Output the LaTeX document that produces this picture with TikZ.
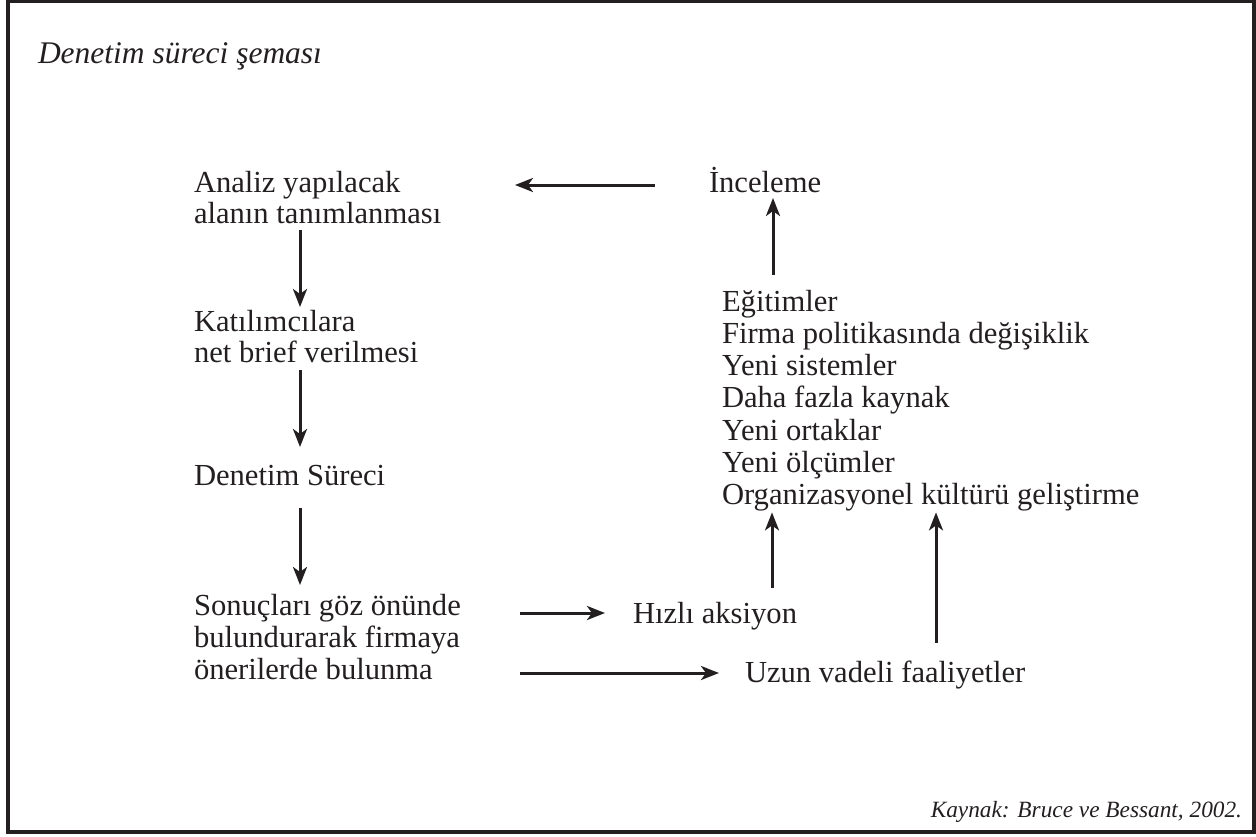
\documentclass[tikz,border=0pt]{standalone}
\usepackage{fontspec}
\setmainfont{Liberation Serif}
\usetikzlibrary{arrows.meta,calc}
\definecolor{ink}{RGB}{35,31,32}
% stacked lines with a fixed distance between baselines; the box's baseline is the first line's
\newcommand\linestack[2]{\vtop{\baselineskip=#1pt\lineskiplimit=-100pt\relax #2}}
\tikzset{
  lbl/.style={anchor=base west, inner sep=0pt, outer sep=0pt, text=ink,
              font=\fontsize{30.6}{32.3}\selectfont},
  arr/.style={draw=ink, line width=3pt,
              -{Stealth[length=18pt,width=14pt,inset=5pt]}},
}
\begin{document}
\begin{tikzpicture}[x=1pt,y=-1pt]
  \useasboundingbox (0,0) rectangle (1256,836);
  % frame
  \draw[ink, line width=3.2pt] (8,1.6) rectangle (1254,832);

  % title and source
  \node[lbl, font=\fontsize{31.5}{36}\selectfont\itshape] (title) at (38,63) {Denetim süreci şeması};
  \node[lbl, anchor=base east, font=\fontsize{23.3}{28}\selectfont\itshape] (kaynak) at (1242,817)
    {Kaynak: Bruce ve Bessant, 2002.};

  % left column
  \node[lbl] (analiz) at (194,192)
    {\linestack{31}{\hbox{Analiz yapılacak}\hbox{alanın tanımlanması}}};
  \node[lbl] (katil) at (194,331)
    {\linestack{31}{\hbox{Katılımcılara}\hbox{net brief verilmesi}}};
  \node[lbl] (denetim) at (194,485) {Denetim Süreci};
  \node[lbl] (sonuc) at (194,615)
    {\linestack{32}{\hbox{Sonuçları göz önünde}\hbox{bulundurarak firmaya}\hbox{önerilerde bulunma}}};

  % right column
  \node[lbl] (incel) at (709,192) {İnceleme};
  \node[lbl] (list) at (722,311)
    {\linestack{32.3}{\hbox{Eğitimler}\hbox{Firma politikasında değişiklik}\hbox{Yeni sistemler}%
      \hbox{Daha fazla kaynak}\hbox{Yeni ortaklar}\hbox{Yeni ölçümler}%
      \hbox{Organizasyonel kültürü geliştirme}}};
  \node[lbl] (hizli) at (633,623) {Hızlı aksiyon};
  \node[lbl] (uzun) at (745,682) {Uzun vadeli faaliyetler};

  % connectors
  \draw[arr] ($(incel.base west)+(-54,-7)$) -- ($(analiz.base west)+(321,-7)$);
  \draw[arr] ($(list.north west)+(51,-15)$) -- ($(incel.base west)+(64,6)$);

  \draw[arr] ($(analiz.base west)+(106,38)$) -- ($(katil.base west)+(106,-24)$);
  \draw[arr] ($(katil.base west)+(106,39)$) -- ($(denetim.base west)+(106,-38)$);
  \draw[arr] ($(denetim.base west)+(106,23)$) -- ($(sonuc.base west)+(106,-30)$);

  \draw[arr] ($(sonuc.base west)+(326,-2)$) -- ($(hizli.base west)+(-28,-10)$);
  \draw[arr] ($(sonuc.base west)+(326,58)$) -- ($(uzun.base west)+(-26,-9)$);
  \draw[arr] ($(hizli.base west)+(139,-35)$) -- ($(list.south west)+(50,1)$);
  \draw[arr] ($(uzun.base west)+(191,-39)$) -- ($(list.south west)+(214,1)$);
\end{tikzpicture}
\end{document}
